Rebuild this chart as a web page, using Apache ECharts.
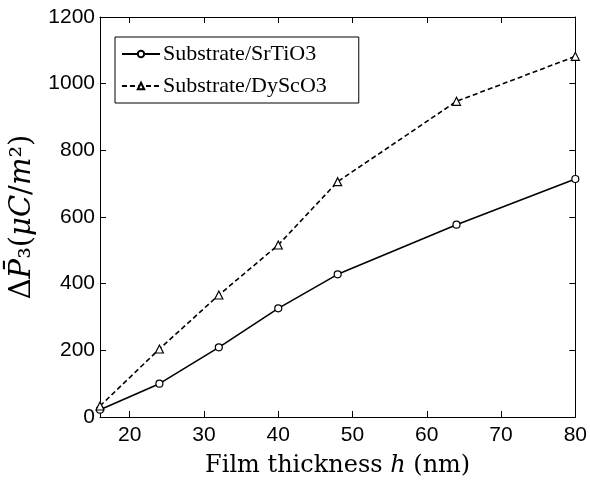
<!DOCTYPE html>
<html>
<head>
<meta charset="utf-8">
<script src="https://cdn.jsdelivr.net/npm/echarts@6/dist/echarts.min.js"></script>
<style>
  html, body { margin: 0; padding: 0; background: #fff; }
  #chart { width: 590px; height: 483px; }
</style>
</head>
<body>
<div id="chart"></div>
<script>
"use strict";

// film thickness h (nm)
const thickness = [16, 24, 32, 40, 48, 64, 80];
// ΔP3 (μC/m²)
const srtio3 = [22, 100, 209, 326, 428, 577, 714];
const dyscO3 = [33, 204, 366, 516, 706, 947, 1082];
const xTicks = [20, 30, 40, 50, 60, 70, 80];

const SERIF = "'Liberation Serif', 'DejaVu Serif', serif";
const MATH = "'DejaVu Serif', serif";
const SANS = "'Liberation Sans', Arial, sans-serif";

function pairs(xs, ys) {
  return xs.map((x, i) => [x, ys[i]]);
}

const chart = echarts.init(document.getElementById("chart"));

const xBase = {
  type: "value", min: 16, max: 80,
  axisLine: { show: true, onZero: false, lineStyle: { color: "#000", width: 1 } },
  splitLine: { show: false },
};
const yBase = {
  type: "value", min: 0, max: 1200, interval: 200,
  axisLine: { show: true, lineStyle: { color: "#000", width: 1 } },
  splitLine: { show: false },
};

chart.setOption({
  animation: false,
  backgroundColor: "#fff",
  grid: { left: 100, right: 14, top: 17, bottom: 60 },
  legend: {
    left: 115, top: 37,
    orient: "vertical",
    padding: [6, 32, 6, 6],
    itemGap: 10,
    itemWidth: 38, itemHeight: 8,
    borderColor: "#000", borderWidth: 1,
    textStyle: { fontFamily: SERIF, fontSize: 22, color: "#000", padding: [0, 0, 0, -2] },
    data: ["Substrate/SrTiO3", "Substrate/DyScO3"],
  },
  xAxis: [
    { ...xBase, position: "bottom",
      name: "{r|Film thickness }{i|h}{r| (nm)}",
      nameLocation: "middle", nameGap: 37,
      nameTextStyle: {
        rich: {
          r: { fontFamily: MATH, fontSize: 24, color: "#000" },
          i: { fontFamily: MATH, fontSize: 24, fontStyle: "italic", color: "#000" },
        },
      },
      axisTick: { inside: true, length: 6, customValues: xTicks, lineStyle: { color: "#000" } },
      axisLabel: { customValues: xTicks, fontFamily: SANS, fontSize: 21, color: "#000", margin: 8 },
    },
    { ...xBase, position: "top",
      axisTick: { inside: true, length: 6, customValues: xTicks, lineStyle: { color: "#000" } },
      axisLabel: { show: false },
    },
  ],
  yAxis: [
    { ...yBase, position: "left",
      name: "{r|Δ}{i|P̄}{r|₃(}{i|μC}{r|/}{i|m}{r|²)}",
      nameLocation: "middle", nameGap: 55, nameRotate: 90,
      nameTextStyle: {
        rich: {
          r: { fontFamily: MATH, fontSize: 29, color: "#000" },
          i: { fontFamily: MATH, fontSize: 29, fontStyle: "italic", color: "#000" },
        },
      },
      axisTick: { inside: true, length: 6, lineStyle: { color: "#000" } },
      axisLabel: { fontFamily: SANS, fontSize: 21, color: "#000", margin: 5, formatter: v => String(v) },
    },
    { ...yBase, position: "right",
      axisTick: { inside: true, length: 6, lineStyle: { color: "#000" } },
      axisLabel: { show: false },
    },
  ],
  series: [
    {
      name: "Substrate/SrTiO3", type: "line",
      data: pairs(thickness, srtio3),
      symbol: "circle", symbolSize: 7,
      itemStyle: { color: "#fff", borderColor: "#000", borderWidth: 1.2 },
      lineStyle: { color: "#000", width: 1.6, type: "solid" },
      z: 3,
    },
    {
      name: "Substrate/DyScO3", type: "line",
      data: pairs(thickness, dyscO3),
      symbol: "triangle", symbolSize: 8,
      itemStyle: { color: "#fff", borderColor: "#000", borderWidth: 1.2 },
      lineStyle: { color: "#000", width: 1.6, type: [5, 3] },
      z: 3,
    },
  ],
});
</script>
</body>
</html>
